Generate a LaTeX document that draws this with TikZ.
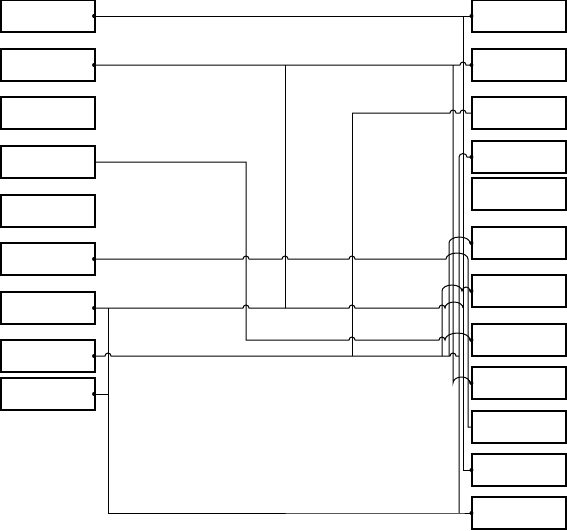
\documentclass[tikz,border=0pt]{standalone}
\usepackage{tikz}

\begin{document}
\begin{tikzpicture}[
  x=1pt, y=1pt,
  unit/.style={rectangle, draw, line width=1.1pt, minimum width=94pt, minimum height=32pt, inner sep=0pt},
  wire/.style={line width=1pt}
]
\useasboundingbox (0,0) rectangle (567,-530);

% left column
\node[unit] (L1) at (48,-16) {};
\node[unit] (L2) at (48,-65) {};
\node[unit] (L3) at (48,-113) {};
\node[unit] (L4) at (48,-162) {};
\node[unit] (L5) at (48,-211) {};
\node[unit] (L6) at (48,-259) {};
\node[unit] (L7) at (48,-308) {};
\node[unit] (L8) at (48,-356) {};
\node[unit] (L9) at (48,-394) {};

% right column
\node[unit] (R1) at (519,-16) {};
\node[unit] (R2) at (519,-65) {};
\node[unit] (R3) at (519,-113) {};
\node[unit] (R4) at (519,-157) {};
\node[unit] (R5) at (519,-194) {};
\node[unit] (R6) at (519,-243) {};
\node[unit] (R7) at (519,-291) {};
\node[unit] (R8) at (519,-340) {};
\node[unit] (R9) at (519,-383) {};
\node[unit] (R10) at (519,-427) {};
\node[unit] (R11) at (519,-470) {};
\node[unit] (R12) at (519,-513) {};

% junctions
\coordinate (jA) at (463,-16);
\coordinate (jB) at (285,-65);
\coordinate (jC) at (453,-65);
\coordinate (jD) at (352,-113);
\coordinate (jE) at (246,-162);
\coordinate (jF) at (108,-308);
\coordinate (jG) at (285,-308);
\coordinate (jH) at (352,-356);
\coordinate (jK) at (108,-394);
\coordinate (jM) at (108,-513);
\coordinate (jN) at (459,-513);
\coordinate (jP) at (442,-356);
\coordinate (jQ) at (449,-356);
\coordinate (jR) at (459,-356);

% wires
\draw[wire] (L1.east) -- (R1.west);
\draw[wire] (jA) -- (463,-470) -- (R11.west);
\draw[wire] (L2.east) -- (jB) -- (jC) -- (460,-65) arc[start angle=180,end angle=0,radius=3] -- (R2.west);
\draw[wire] (jB) -- (jG);
\draw[wire] (jC) -- (453,-383) arc[start angle=180,end angle=0,x radius=8.5,y radius=6] -- (R9.west);
\draw[wire] (jD) -- (450,-113) arc[start angle=180,end angle=0,radius=3] -- (460,-113) arc[start angle=180,end angle=0,radius=3] -- (R3.west);
\draw[wire] (jD) -- (jH);
\draw[wire] (jN) -- (459,-157) arc[start angle=180,end angle=0,x radius=4,y radius=3.5] -- (R4.west);
\draw[wire] (L4.east) -- (jE) -- (246,-340) -- (349,-340) arc[start angle=180,end angle=0,radius=3]
  -- (439,-340) arc[start angle=180,end angle=0,radius=3]
  -- (445,-340) arc[start angle=180,end angle=0,x radius=12.5,y radius=7] -- (R8.west);
\draw[wire] (L6.east) -- (243,-259) arc[start angle=180,end angle=0,radius=3]
  -- (282,-259) arc[start angle=180,end angle=0,radius=3]
  -- (349,-259) arc[start angle=180,end angle=0,radius=3]
  -- (446,-259) arc[start angle=180,end angle=0,x radius=11,y radius=6] -- (468,-427) -- (R10.west);
\draw[wire] (L7.east) -- (jF) -- (243,-308) arc[start angle=180,end angle=0,radius=3]
  -- (jG) -- (349,-308) arc[start angle=180,end angle=0,radius=3]
  -- (439,-308) arc[start angle=180,end angle=0,radius=3]
  -- (445,-308) arc[start angle=180,end angle=0,x radius=9,y radius=6];
\draw[wire] (jF) -- (jM) -- (jN) -- (R12.west);
\draw[wire] (L9.east) -- (jK);
\draw[wire] (L8.east) -- (105,-356) arc[start angle=180,end angle=0,radius=3]
  -- (jH) -- (jP) -- (jQ) -- (450,-356) arc[start angle=180,end angle=0,radius=3] -- (jR);
\draw[wire] (jP) -- (442,-291) arc[start angle=180,end angle=0,x radius=10,y radius=6]
  arc[start angle=180,end angle=0,radius=4] -- (R7.west);
\draw[wire] (jQ) -- (449,-243) arc[start angle=180,end angle=0,x radius=10.5,y radius=6] -- (R6.west);

% pin dots
\foreach \p in {L1,L2,L6,L7,L8,L9}
  \fill (\p.east) ++(-1.5,0) circle (2pt);
\foreach \p in {R1,R2,R4,R6,R7,R8,R9,R11,R12}
  \fill (\p.west) circle (2pt);
\end{tikzpicture}
\end{document}
